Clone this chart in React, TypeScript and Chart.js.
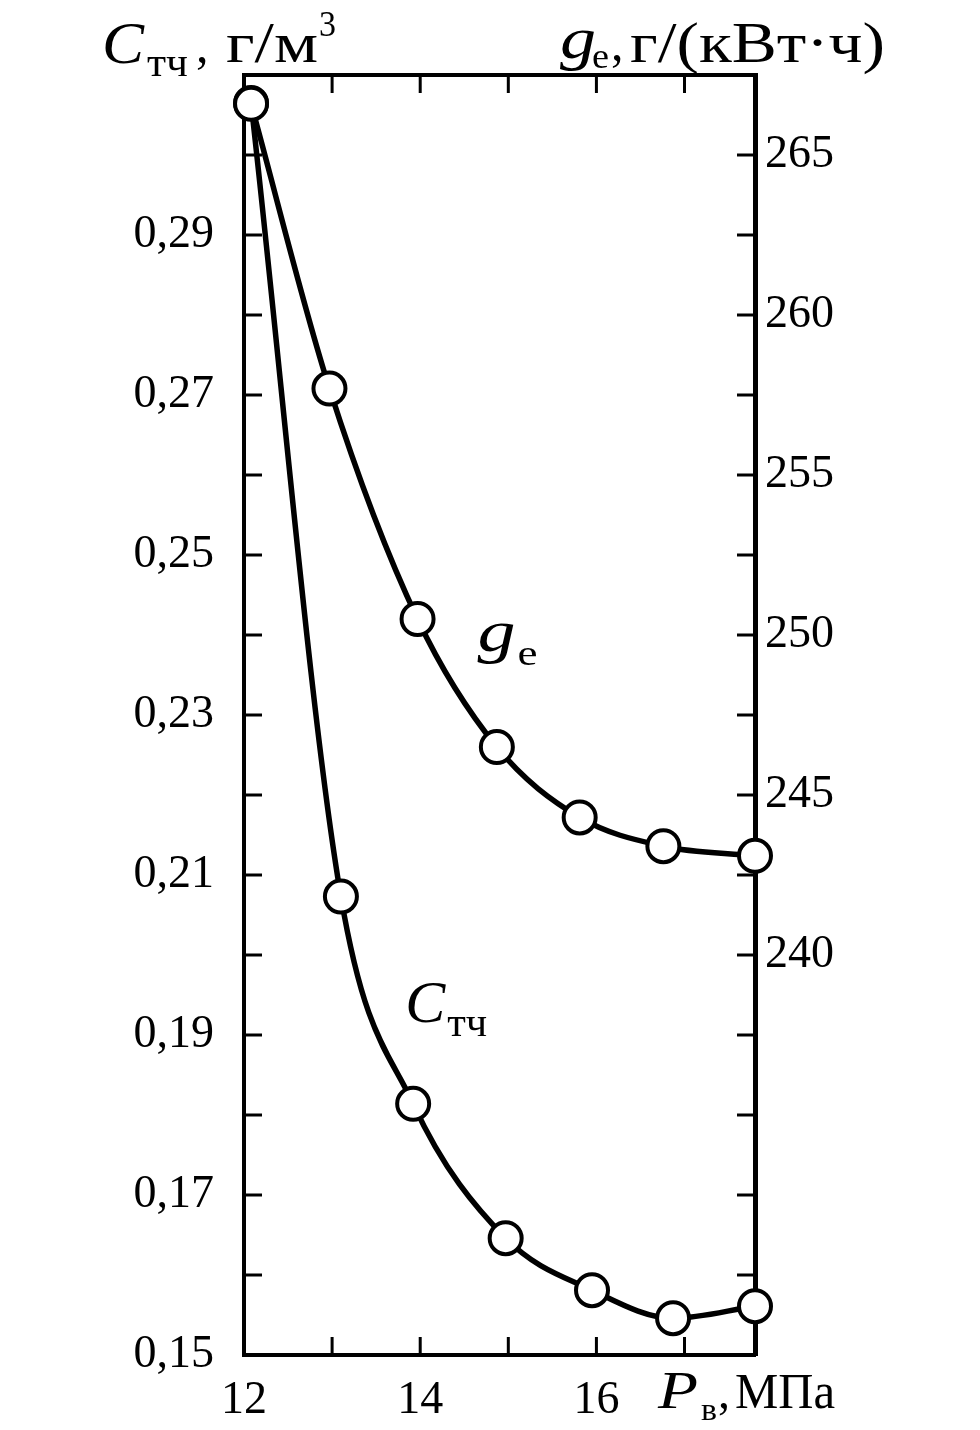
import React, { useEffect, useRef } from 'react';
import { Chart, registerables } from 'chart.js';

Chart.register(...registerables);

// Data
const pressureGe = [12.08, 12.97, 13.97, 14.87, 15.81, 16.76, 17.8];
const geValues = [266.6, 257.7, 250.5, 246.5, 244.3, 243.4, 243.1];
const pressureC = [12.08, 13.1, 13.92, 14.97, 15.95, 16.87, 17.8];
const cValues = [0.3065, 0.2073, 0.1814, 0.1646, 0.1581, 0.1546, 0.1561];

const xTickLabels = [12, 14, 16];
const leftTickLabels = [0.15, 0.17, 0.19, 0.21, 0.23, 0.25, 0.27, 0.29];
const rightTickLabels = [240, 245, 250, 255, 260, 265];

const SERIF = '"Liberation Serif", "Times New Roman", serif';

function drawText(ctx: CanvasRenderingContext2D, s: string, x: number, y: number, font: string, w?: number) {
  ctx.font = font;
  if (w) {
    const m = ctx.measureText(s).width;
    ctx.save();
    ctx.translate(x, y);
    ctx.scale(w / m, 1);
    ctx.fillText(s, 0, 0);
    ctx.restore();
  } else {
    ctx.fillText(s, x, y);
  }
}

const framePlugin = {
  id: 'frameTicks',
  beforeDatasetsDraw(chart: any) {
    const { ctx, chartArea: a, scales } = chart;
    ctx.save();
    ctx.strokeStyle = '#000';
    ctx.lineCap = 'butt';
    ctx.lineWidth = 4;
    ctx.beginPath();
    ctx.moveTo(a.left - 2, a.top);
    ctx.lineTo(a.right + 2, a.top);
    ctx.stroke();
    ctx.lineWidth = 3;
    const L = 18;
    const line = (x1: number, y1: number, x2: number, y2: number) => {
      ctx.beginPath();
      ctx.moveTo(x1, y1);
      ctx.lineTo(x2, y2);
      ctx.stroke();
    };
    scales.y.ticks.forEach((t: any) => {
      const p = scales.y.getPixelForValue(t.value);
      if (p > a.top + 3 && p < a.bottom - 3) line(a.left, p, a.left + L, p);
    });
    scales.y2.ticks.forEach((t: any) => {
      const p = scales.y2.getPixelForValue(t.value);
      if (p > a.top + 3 && p < a.bottom - 3) line(a.right, p, a.right - L, p);
    });
    scales.x.ticks.forEach((t: any) => {
      const p = scales.x.getPixelForValue(t.value);
      if (p > a.left + 3 && p < a.right - 3) {
        line(p, a.bottom, p, a.bottom - L);
        line(p, a.top, p, a.top + L);
      }
    });
    ctx.restore();
  },
  afterDraw(chart: any) {
    const { ctx, scales } = chart;
    ctx.save();
    ctx.fillStyle = '#000';
    ctx.textAlign = 'left';
    ctx.textBaseline = 'alphabetic';
    // Left title: C_тч , г/м³
    drawText(ctx, 'C', 102, 63, `italic 60px ${SERIF}`, 42);
    drawText(ctx, 'тч', 147, 76, `40px ${SERIF}`, 41);
    drawText(ctx, ',', 196, 62, `50px ${SERIF}`);
    drawText(ctx, 'г/м', 226, 62, `56px ${SERIF}`, 92);
    drawText(ctx, '3', 319, 36, `36px ${SERIF}`, 17);
    // Right title: g_e, г/(кВт·ч)
    drawText(ctx, 'g', 560, 58, `italic 60px ${SERIF}`, 36);
    drawText(ctx, 'e', 592, 68, `36px ${SERIF}`, 17);
    drawText(ctx, ',', 611, 60, `50px ${SERIF}`);
    drawText(ctx, 'г/(кВт·ч)', 630, 62, `56px ${SERIF}`, 255);
    // Bottom: P_в, МПа
    drawText(ctx, 'P', 658, 1408, `italic 52px ${SERIF}`, 40);
    drawText(ctx, 'в', 701, 1420, `32px ${SERIF}`, 16);
    drawText(ctx, ',', 718, 1408, `48px ${SERIF}`);
    drawText(ctx, 'МПа', 735, 1408, `50px ${SERIF}`, 100);
    // Curve labels anchored in data coordinates
    const gx = scales.x.getPixelForValue(14.65);
    const gy = scales.y2.getPixelForValue(249.5);
    drawText(ctx, 'g', gx, gy, `italic 60px ${SERIF}`, 38);
    drawText(ctx, 'e', gx + 40, gy + 14, `36px ${SERIF}`, 20);
    const cx = scales.x.getPixelForValue(13.83);
    const cy = scales.y.getPixelForValue(0.1916);
    drawText(ctx, 'C', cx, cy, `italic 60px ${SERIF}`, 40);
    drawText(ctx, 'тч', cx + 42, cy + 14, `40px ${SERIF}`, 40);
    ctx.restore();
  },
};

const seriesStyle = {
  borderColor: '#000',
  borderWidth: 5.5,
  cubicInterpolationMode: 'monotone',
  pointRadius: 16,
  pointBorderWidth: 4,
  pointBackgroundColor: '#fff',
  pointBorderColor: '#000',
  fill: false,
  clip: false,
};

export default function App() {
  const ref = useRef<HTMLCanvasElement | null>(null);
  useEffect(() => {
    if (!ref.current) return;
    const chart = new Chart(ref.current, {
      type: 'line',
      data: {
        datasets: [
          {
            label: 'ge',
            data: pressureGe.map((x, i) => ({ x, y: geValues[i] })),
            yAxisID: 'y2',
            ...seriesStyle,
          },
          {
            label: 'C',
            data: pressureC.map((x, i) => ({ x, y: cValues[i] })),
            yAxisID: 'y',
            ...seriesStyle,
          },
        ],
      },
      options: {
        responsive: false,
        animation: false,
        layout: { padding: { top: 75, left: 0, right: 0, bottom: 0 } },
        plugins: { legend: { display: false }, tooltip: { enabled: false } },
        scales: {
          x: {
            type: 'linear',
            position: 'bottom',
            min: 12,
            max: 17.8,
            grid: { display: false, drawTicks: false },
            border: { display: true, width: 4, color: '#000' },
            ticks: {
              stepSize: 1,
              includeBounds: false,
              autoSkip: false,
              maxRotation: 0,
              padding: 18,
              color: '#000',
              font: { family: SERIF, size: 46 },
              callback: (v: any) => (xTickLabels.includes(Math.round(Number(v) * 10) / 10) ? String(v) : ''),
            },
            afterFit: (s: any) => { s.height = 75; },
          },
          y: {
            type: 'linear',
            position: 'left',
            min: 0.15,
            max: 0.31,
            grid: { display: false, drawTicks: false },
            border: { display: true, width: 4, color: '#000' },
            ticks: {
              stepSize: 0.01,
              autoSkip: false,
              padding: 30,
              color: '#000',
              font: { family: SERIF, size: 46 },
              callback: (v: any) => {
                const r = Math.round(Number(v) * 100) / 100;
                return leftTickLabels.some((l) => Math.abs(l - r) < 1e-6) ? r.toFixed(2).replace('.', ',') : '';
              },
            },
            afterFit: (s: any) => { s.width = 244; },
          },
          y2: {
            type: 'linear',
            position: 'right',
            min: 227.5,
            max: 267.5,
            grid: { display: false, drawTicks: false },
            border: { display: true, width: 5, color: '#000' },
            ticks: {
              stepSize: 2.5,
              autoSkip: false,
              padding: 10,
              color: '#000',
              font: { family: SERIF, size: 46 },
              callback: (v: any) => (rightTickLabels.includes(Number(v)) ? String(v) : ''),
            },
            afterFit: (s: any) => { s.width = 225; },
          },
        },
      },
      plugins: [framePlugin],
    } as any);
    return () => chart.destroy();
  }, []);
  return (
    <div style={{ position: 'absolute', left: 0, top: 0, width: 980, height: 1430, background: '#fff' }}>
      <canvas ref={ref} width={980} height={1430} />
    </div>
  );
}
